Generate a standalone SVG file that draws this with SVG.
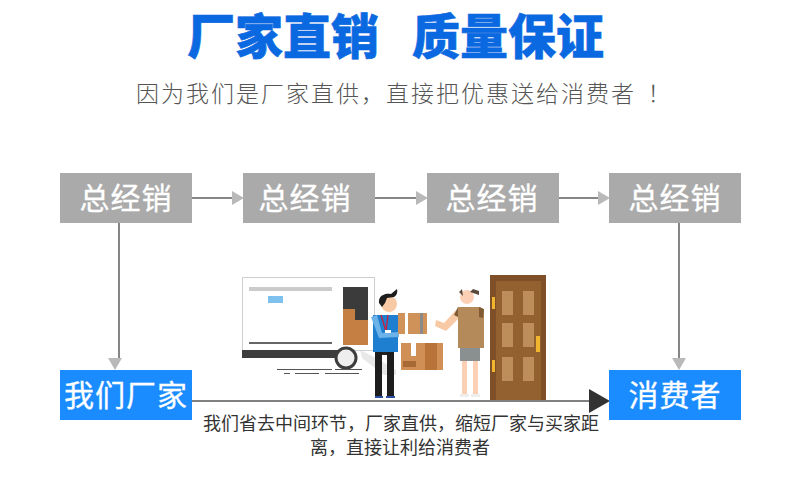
<svg xmlns="http://www.w3.org/2000/svg" width="790" height="496" viewBox="0 0 790 496">
<style>
text{font-family:"Noto Sans CJK SC","Liberation Sans",sans-serif;text-anchor:middle}
.g{fill:#aaaaaa}.b{fill:#1a8cff}
.l{font-size:30px;fill:#fff;letter-spacing:1px;stroke:#fff;stroke-width:.3}
.c{stroke:#868686;stroke-width:2;fill:none}
.h{fill:#b9b9b9}
.n{font-size:18px;fill:#333}
.t{font-family:"Liberation Sans","Noto Sans CJK SC",sans-serif;font-size:48px;font-weight:900;fill:#0a69e0;stroke:#0a69e0;stroke-width:.6}
</style>
<rect width="790" height="496" fill="#fff"/>
<g id="title"><text class="t" x="283" y="54">厂家直销</text><text class="t" x="508" y="54">质量保证</text></g>
<text id="subtitle" font-size="23" font-weight="300" fill="#555" letter-spacing="2"><tspan x="386" y="102">因为我们是厂家直供，直接把优惠送给消费者</tspan><tspan x="660" y="102">！</tspan></text>
<g id="connectors">
<path class="c" d="M192 198H233M375 198H417M559 198H599M119 223V359M679 223V359"/>
<path d="M232 191l12 7-12 7zM416 191l12 7-12 7zM598 191l12 7-12 7zM108 358l7 12 7-12zM672 358l7 12 7-12z" class="h"/>
<path d="M192 401H590" stroke="#808080" stroke-width="2" fill="none"/>
<path d="M589 389l21 12-21 12z" fill="#333"/>
</g>
<g id="n1"><rect class="g" x="60" y="173" width="132" height="50"/><text class="l" x="126" y="209">总经销</text></g>
<g id="n2"><rect class="g" x="243" y="173" width="132" height="50"/><text class="l" x="305" y="209">总经销</text></g>
<g id="n3"><rect class="g" x="427" y="173" width="132" height="50"/><text class="l" x="492" y="209">总经销</text></g>
<g id="n4"><rect class="g" x="609" y="173" width="132" height="50"/><text class="l" x="675" y="209">总经销</text></g>
<g id="factory"><rect class="b" x="60" y="370" width="132" height="50"/><text class="l" x="126" y="406">我们厂家</text></g>
<g id="consumer"><rect class="b" x="609" y="370" width="132" height="50"/><text class="l" x="675" y="406">消费者</text></g>
<g id="illustration">
<path d="M360 350l16 8 20 12 0 5-12 0-22-17z" fill="#e8e8e8"/>
<rect x="242.5" y="277.5" width="132" height="73" fill="#fff" stroke="#cfcfcf"/>
<rect x="249" y="287" width="83" height="4" fill="#cbcbcb"/>
<rect x="268" y="296" width="15" height="7" fill="#7fc1ee"/>
<rect x="249" y="342" width="83" height="2" fill="#666"/>
<rect x="343" y="287" width="25" height="58" fill="#3b3b3b"/>
<path d="M343 309h12v11h13v25h-25z" fill="#c67f42"/>
<rect x="242" y="350" width="103" height="8" fill="#3d3d3d"/>
<circle cx="346" cy="358" r="10" fill="#eee" stroke="#3d3d3d" stroke-width="3"/>
<path d="M277 369.500h55M284 373.500h6M295 373.500h24M325 373.500h34M335 369.500h27" stroke="#555" stroke-width="1"/>
<rect x="375" y="352" width="19" height="3" fill="#222"/>
<rect x="375" y="352" width="7" height="44" fill="#1d1d1d"/><rect x="387" y="352" width="7" height="44" fill="#1d1d1d"/>
<path d="M375 396h8v2h-8zM386 396h9v2h-9z" fill="#2a4fa0"/>
<rect x="373" y="315" width="25" height="37" fill="#1e7fd0"/>
<path d="M371 317l6-2 5 18 17-1 0 5-20 1z" fill="#6bb2e8"/>
<path d="M381 315l5 16 2-16" fill="none" stroke="#c8203a" stroke-width="1.300"/>
<rect x="385" y="330" width="6" height="3" fill="#fff"/>
<circle cx="389" cy="304" r="8" fill="#f8c9a5"/>
<path d="M379 303c-1-8 7-10 12-9l6-5c1 4-1 7-3 8l-7 1-2 5-3 4z" fill="#1d1d1d"/>
<rect x="398" y="313" width="29" height="21" fill="#cf935a"/>
<rect x="405" y="313" width="3" height="21" fill="#fff"/>
<rect x="420" y="313" width="3" height="21" fill="#8a8a8a"/>
<rect x="401" y="343" width="42" height="27" fill="#d08f55"/>
<rect x="411" y="343" width="5" height="13" fill="#fff"/>
<rect x="425" y="343" width="12" height="27" fill="#b87338"/>
<rect x="403" y="361" width="13" height="6" fill="#a86a35"/>
<path d="M436 320l8 3 12-13 4 7-14 14-11-5z" fill="#f8c9a5"/>
<path d="M458 307h22l4 3v38h-26z" fill="#b48a5a"/>
<path d="M458 307l-4 8 4 2zM479 307l5 2-1 9-4-1z" fill="#7f5a33"/>
<rect x="460" y="348" width="20" height="13" fill="#8a8f8f"/>
<rect x="462" y="361" width="5" height="33" fill="#fbd0b4"/><rect x="473" y="361" width="5" height="33" fill="#fbd0b4"/>
<rect x="460" y="394" width="9" height="3" fill="#eee"/><rect x="471" y="394" width="9" height="3" fill="#eee"/>
<circle cx="467" cy="297" r="7" fill="#fbd0b4"/>
<path d="M459 292l3-3 1 7zM470 292l3-3 6 2 0 4z" fill="#5a4a3c"/>
<rect x="490" y="275" width="56" height="125" fill="#7f4f27"/>
<rect x="496" y="281" width="45" height="119" fill="#93602f"/>
<g fill="#bd8d5a"><rect x="502" y="291" width="11" height="24"/><rect x="523" y="291" width="11" height="24"/><rect x="502" y="323" width="11" height="24"/><rect x="523" y="323" width="11" height="24"/><rect x="502" y="357" width="11" height="24"/><rect x="523" y="357" width="11" height="24"/></g>
<g fill="#f0b62e"><rect x="492" y="297" width="3" height="12"/><rect x="492" y="360" width="3" height="12"/><rect x="536" y="336" width="4" height="16"/></g>
</g>
<g id="note"><text class="n" x="401" y="430">我们省去中间环节，厂家直供，缩短厂家与买家距</text><text class="n" x="400" y="454">离，直接让利给消费者</text></g>
</svg>
